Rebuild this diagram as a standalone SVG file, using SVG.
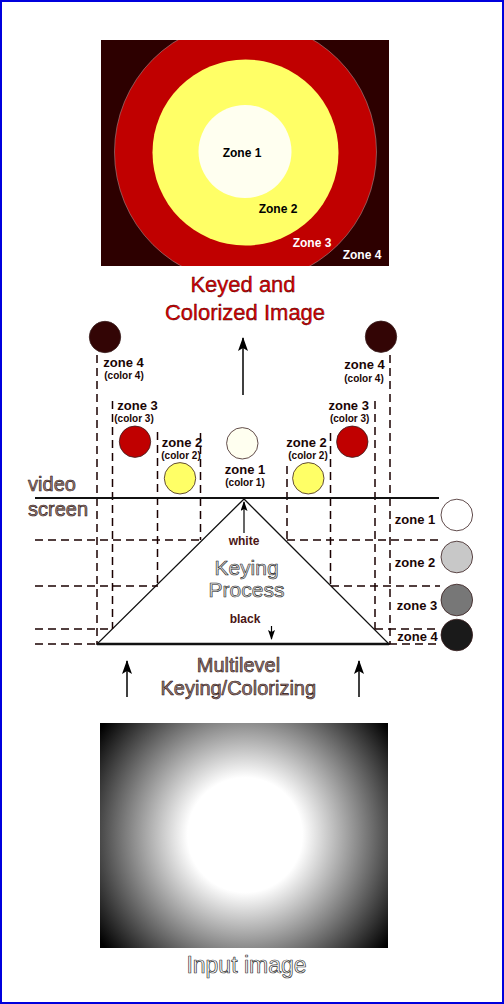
<svg xmlns="http://www.w3.org/2000/svg" width="504" height="1004" viewBox="0 0 504 1004">
<defs>
<style>
.lbl{font-family:"Liberation Sans",Arial,sans-serif;font-weight:bold;text-anchor:middle;fill:#1a0505}
.z{font-size:13px}
.c{font-size:10px}
.zt{font-family:"Liberation Sans",Arial,sans-serif;font-weight:bold;font-size:12px;text-anchor:middle}
.big{font-family:"Liberation Sans",Arial,sans-serif;text-anchor:middle;stroke-linejoin:round}
.dash{stroke:#1a0000;stroke-width:1.5;stroke-dasharray:8 5;fill:none}
.solid{stroke:#111;fill:none}
.dot{stroke:#3a2020;stroke-width:0.8}
.wb{font-family:"Liberation Sans",Arial,sans-serif;font-weight:bold;font-size:12px;text-anchor:middle;fill:#4a1515}
</style>
<marker id="ah" markerWidth="15" markerHeight="10" refX="13" refY="5" orient="auto" markerUnits="userSpaceOnUse" viewBox="0 0 15 10">
<path d="M0,0 L14,5 L0,10 L3,5 Z" fill="#000"/>
</marker>
<marker id="ahs" markerWidth="10" markerHeight="7" refX="9" refY="3.5" orient="auto" markerUnits="userSpaceOnUse" viewBox="0 0 10 7">
<path d="M0,0 L10,3.5 L0,7 L2,3.5 Z" fill="#000"/>
</marker>
<radialGradient id="rg" gradientUnits="userSpaceOnUse" cx="245" cy="835" r="185">
<stop offset="0" stop-color="#fff"/>
<stop offset="0.31" stop-color="#fff"/>
<stop offset="0.97" stop-color="#000"/>
<stop offset="1" stop-color="#000"/>
</radialGradient>
<clipPath id="topclip"><rect x="101" y="40" width="288" height="226"/></clipPath>
</defs>
<rect x="0" y="0" width="504" height="1004" fill="#fff"/>
<rect x="1" y="1" width="502" height="1002" fill="none" stroke="#0000dd" stroke-width="2"/>

<g id="keyed-image">
<rect x="101" y="40" width="288" height="226" fill="#2d0000"/>
<g clip-path="url(#topclip)">
<circle cx="245.5" cy="152" r="131" fill="#c00000" stroke="#a08a8a" stroke-width="0.6"/>
<circle cx="245.5" cy="152.5" r="93" fill="#ffff66"/>
<circle cx="245" cy="151.5" r="46.5" fill="#fffff0"/>
</g>
<text class="zt" x="242" y="157" fill="#000">Zone 1</text>
<text class="zt" x="278" y="213" fill="#000">Zone 2</text>
<text class="zt" x="312" y="247" fill="#fff">Zone 3</text>
<text class="zt" x="362" y="259" fill="#fff">Zone 4</text>
</g>

<g id="title">
<text class="big" x="243" y="292" font-size="22" fill="#dd0000" stroke="#400000" stroke-width="0.4">Keyed and</text>
<text class="big" x="245" y="320" font-size="22" fill="#dd0000" stroke="#400000" stroke-width="0.4">Colorized Image</text>
</g>

<g id="keying-process">
<path d="M244,499 L97,644 L389,644 Z" fill="#fff" stroke="#111" stroke-width="1.3" stroke-linejoin="miter"/>
<line x1="97" y1="644" x2="389" y2="644" stroke="#111" stroke-width="2.4"/>
<text class="wb" x="244" y="545">white</text>
<text class="big" x="246.5" y="575" font-size="21" fill="#dcdcdc" stroke="#222" stroke-width="0.6">Keying</text>
<text class="big" x="246.5" y="597" font-size="21" fill="#dcdcdc" stroke="#222" stroke-width="0.6">Process</text>
<text class="wb" x="245" y="623">black</text>
</g>

<g id="connectors">
<line x1="243" y1="395" x2="243" y2="338" stroke="#000" stroke-width="1.5" marker-end="url(#ah)"/>
<line x1="127" y1="697" x2="127" y2="661" stroke="#000" stroke-width="1.5" marker-end="url(#ah)"/>
<line x1="359" y1="697" x2="359" y2="661" stroke="#000" stroke-width="1.5" marker-end="url(#ah)"/>
<line x1="244" y1="533" x2="244" y2="502" stroke="#000" stroke-width="1.2" marker-end="url(#ahs)"/>
<line x1="271.5" y1="626" x2="271.5" y2="639" stroke="#000" stroke-width="1.2" marker-end="url(#ahs)"/>
<line class="dash" x1="97" y1="355" x2="97" y2="644"/>
<line class="dash" x1="112.5" y1="401" x2="112.5" y2="629"/>
<line class="dash" x1="157.5" y1="432" x2="157.5" y2="586"/>
<line class="dash" x1="200.5" y1="433" x2="200.5" y2="540"/>
<line class="dash" x1="287" y1="466" x2="287" y2="540"/>
<line class="dash" x1="330.5" y1="433" x2="330.5" y2="586"/>
<line class="dash" x1="375" y1="401" x2="375" y2="629"/>
<line class="dash" x1="390" y1="355" x2="390" y2="644"/>
<line class="dash" x1="35" y1="540" x2="202" y2="540"/>
<line class="dash" x1="287" y1="540" x2="440" y2="540"/>
<line class="dash" x1="35" y1="586" x2="158" y2="586"/>
<line class="dash" x1="331" y1="586" x2="440" y2="586"/>
<line class="dash" x1="35" y1="629" x2="112" y2="629"/>
<line class="dash" x1="375" y1="629" x2="438" y2="629"/>
<line class="dash" x1="35" y1="644" x2="97" y2="644"/>
<line class="dash" x1="389" y1="644" x2="438" y2="644"/>
<line class="solid" x1="35" y1="498" x2="439" y2="498" stroke-width="2.2"/>
</g>

<g id="video-screen">
<text class="big" x="52" y="491" font-size="20" fill="#9a8078" stroke="#2a1010" stroke-width="0.6">video</text>
<text class="big" x="58" y="516" font-size="20" fill="#9a8078" stroke="#2a1010" stroke-width="0.6">screen</text>
</g>

<g id="zone4-left">
<circle class="dot" cx="105" cy="337" r="15.7" fill="#330505"/>
<text class="lbl z" x="123.5" y="367">zone 4</text>
<text class="lbl c" x="124" y="379">(color 4)</text>
</g>
<g id="zone3-left">
<circle class="dot" cx="135" cy="441.7" r="15.7" fill="#c00000"/>
<text class="lbl z" x="137.5" y="410">zone 3</text>
<text class="lbl c" x="134" y="422">(color 3)</text>
</g>
<g id="zone2-left">
<circle class="dot" cx="180" cy="478.3" r="15.7" fill="#ffff66"/>
<text class="lbl z" x="182" y="446.5">zone 2</text>
<text class="lbl c" x="181" y="459">(color 2)</text>
</g>
<g id="zone1-center">
<circle class="dot" cx="242.3" cy="443.3" r="15.7" fill="#fffff0"/>
<text class="lbl z" x="245" y="474">zone 1</text>
<text class="lbl c" x="245" y="486">(color 1)</text>
</g>
<g id="zone2-right">
<circle class="dot" cx="308.3" cy="478.3" r="15.7" fill="#ffff66"/>
<text class="lbl z" x="306.5" y="446.5">zone 2</text>
<text class="lbl c" x="308" y="459">(color 2)</text>
</g>
<g id="zone3-right">
<circle class="dot" cx="352.3" cy="441.7" r="15.7" fill="#c00000"/>
<text class="lbl z" x="348.7" y="410">zone 3</text>
<text class="lbl c" x="349.7" y="422">(color 3)</text>
</g>
<g id="zone4-right">
<circle class="dot" cx="381" cy="336.7" r="15.7" fill="#330505"/>
<text class="lbl z" x="364.5" y="369">zone 4</text>
<text class="lbl c" x="364" y="382">(color 4)</text>
</g>

<g id="gray-zones">
<circle class="dot" cx="456.8" cy="515" r="15.8" fill="#fff"/>
<text class="lbl z" x="415" y="523.5">zone 1</text>
<circle class="dot" cx="456.8" cy="557" r="15.8" fill="#c8c8c8"/>
<text class="lbl z" x="415" y="567">zone 2</text>
<circle class="dot" cx="456.8" cy="600" r="15.8" fill="#777"/>
<text class="lbl z" x="417" y="610">zone 3</text>
<circle class="dot" cx="456.8" cy="635" r="15.8" fill="#1a1a1a"/>
<text class="lbl z" x="417.5" y="640.5">zone 4</text>
</g>

<g id="multilevel">
<text class="big" x="238.5" y="672" font-size="20" fill="#9a8078" stroke="#2a1010" stroke-width="0.6">Multilevel</text>
<text class="big" x="238.3" y="695" font-size="20" fill="#9a8078" stroke="#2a1010" stroke-width="0.6">Keying/Colorizing</text>
</g>

<g id="input-image">
<rect x="100" y="723" width="288" height="225" fill="url(#rg)"/>
<text class="big" x="246.5" y="973" font-size="23" fill="#fff" stroke="#333" stroke-width="0.7">Input image</text>
</g>
</svg>
